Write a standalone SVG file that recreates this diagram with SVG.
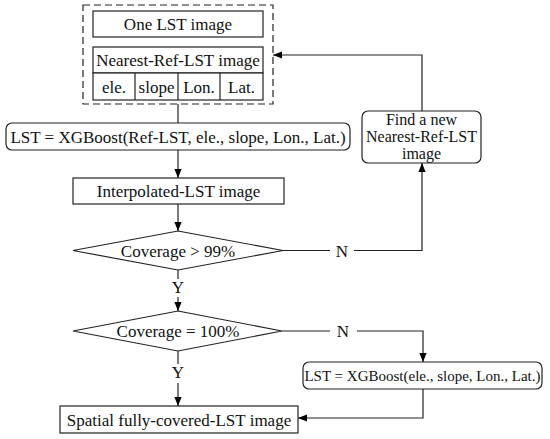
<svg xmlns="http://www.w3.org/2000/svg" width="550" height="439" viewBox="0 0 550 439">
<defs>
<marker id="ah" viewBox="0 0 10 10" refX="10" refY="5" markerWidth="9" markerHeight="9" markerUnits="userSpaceOnUse" orient="auto">
<path d="M0,1 L10,5 L0,9 Z" fill="#000"/>
</marker>
<style>
.b{fill:#fff;stroke:#222;stroke-width:1.2}
.t{font-family:"Liberation Serif","Times New Roman",serif;font-size:17px;fill:#111;text-anchor:middle}
.s{font-size:16px}
.c{fill:none;stroke:#222;stroke-width:1.2}
.a{marker-end:url(#ah)}
</style>
</defs>
<rect width="550" height="439" fill="#fff"/>
<g id="input">
<rect x="83" y="5" width="190" height="99" fill="none" stroke="#222" stroke-width="1.2" stroke-dasharray="7,4"/>
<rect class="b" x="93" y="11" width="170" height="26"/>
<text class="t" x="178" y="30">One LST image</text>
<rect class="b" x="93" y="47" width="170" height="26"/>
<text class="t" x="178" y="66">Nearest-Ref-LST image</text>
<rect class="b" x="93" y="73" width="170" height="27"/>
<line class="c" x1="135" y1="73" x2="135" y2="100"/>
<line class="c" x1="178" y1="73" x2="178" y2="100"/>
<line class="c" x1="220" y1="73" x2="220" y2="100"/>
<text class="t" x="114" y="92.5">ele.</text>
<text class="t" x="156.5" y="92.5">slope</text>
<text class="t" x="199" y="92.5">Lon.</text>
<text class="t" x="241.5" y="92.5">Lat.</text>
</g>
<g id="xgb1">
<rect class="b" x="6" y="123" width="344" height="27" rx="6"/>
<text class="t" x="178" y="142.5">LST = XGBoost(Ref-LST, ele., slope, Lon., Lat.)</text>
</g>
<g id="interp">
<rect class="b" x="73" y="178" width="211" height="26"/>
<text class="t" x="178.5" y="197">Interpolated-LST image</text>
</g>
<g id="cov99">
<polygon class="b" points="178,231 283,250.5 178,270 73,250.5"/>
<text class="t" x="178" y="256.5">Coverage &gt; 99%</text>
</g>
<g id="findnew">
<rect class="b" x="362" y="111" width="119" height="52" rx="6"/>
<text class="t s" x="421.5" y="124.5">Find a new</text>
<text class="t s" x="421.5" y="142">Nearest-Ref-LST</text>
<text class="t s" x="421.5" y="159">image</text>
</g>
<g id="cov100">
<polygon class="b" points="178,311 282,331 178,351 73,331"/>
<text class="t" x="178" y="337">Coverage = 100%</text>
</g>
<g id="xgb2">
<rect class="b" x="303" y="362" width="239" height="27" rx="6"/>
<text class="t" style="font-size:15px" x="422.5" y="380.5">LST = XGBoost(ele., slope, Lon., Lat.)</text>
</g>
<g id="output">
<rect class="b" x="60" y="406" width="238" height="27"/>
<text class="t" x="179" y="425.5">Spatial fully-covered-LST image</text>
</g>
<g id="connectors">
<line class="c" x1="178" y1="104" x2="178" y2="123"/>
<line class="c a" x1="178" y1="150" x2="178" y2="178"/>
<line class="c a" x1="178" y1="204" x2="178" y2="231"/>
<polyline class="c" points="178,270 178,279"/>
<text class="t" x="178" y="293">Y</text>
<polyline class="c a" points="178,297 178,311"/>
<polyline class="c" points="283,250.5 330,250.5"/>
<text class="t" x="342" y="256.5">N</text>
<polyline class="c a" points="354,250.5 422,250.5 422,163"/>
<polyline class="c a" points="422,111 422,55 273,55"/>
<polyline class="c" points="282,331 330,331"/>
<text class="t" x="343" y="337">N</text>
<polyline class="c a" points="357,331 423,331 423,362"/>
<polyline class="c" points="178,351 178,364"/>
<text class="t" x="178" y="378">Y</text>
<polyline class="c a" points="178,383 178,406"/>
<polyline class="c a" points="423,389 423,418 298,418"/>
</g>
</svg>
